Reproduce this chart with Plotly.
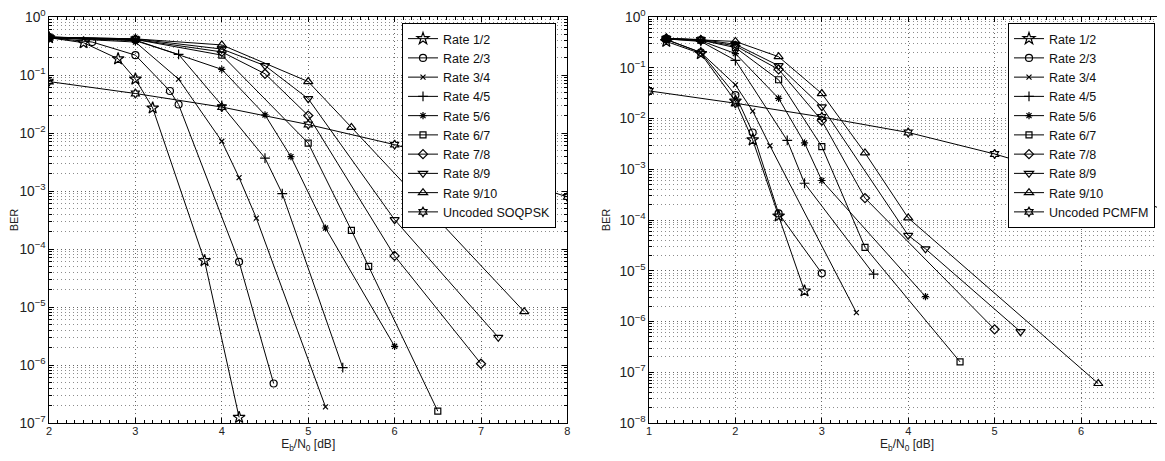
import plotly.graph_objects as go

# ---------------- Data: left panel (SOQPSK) ----------------
rate_names = ["Rate 1/2", "Rate 2/3", "Rate 3/4", "Rate 4/5", "Rate 5/6",
              "Rate 6/7", "Rate 7/8", "Rate 8/9", "Rate 9/10"]
rate_symbols = ["star-open", "circle-open", "x-thin-open", "cross-thin-open", "asterisk-open",
                "square-open", "diamond-open", "triangle-down-open", "triangle-up-open"]
rate_sizes = [9, 7, 5, 7, 6, 6, 7, 8, 8]

soq_r12_x = [2, 2.4, 2.8, 3.0, 3.2, 3.8, 4.2]
soq_r12_y = [0.44, 0.36, 0.19, 0.085, 0.027, 6.3e-5, 1.25e-7]
soq_r23_x = [2, 2.5, 3.0, 3.4, 3.5, 4.2, 4.6]
soq_r23_y = [0.44, 0.37, 0.22, 0.053, 0.031, 6e-5, 4.8e-7]
soq_r34_x = [2, 3.0, 3.5, 4.0, 4.2, 4.4, 5.2]
soq_r34_y = [0.44, 0.37, 0.085, 7.2e-3, 1.7e-3, 3.4e-4, 1.9e-7]
soq_r45_x = [2, 3.0, 3.5, 4.0, 4.5, 4.7, 5.4]
soq_r45_y = [0.44, 0.39, 0.226, 0.03, 3.7e-3, 9e-4, 9e-7]
soq_r56_x = [2, 3.0, 4.0, 4.5, 4.8, 5.2, 6.0]
soq_r56_y = [0.44, 0.40, 0.125, 0.0205, 3.9e-3, 2.3e-4, 2.1e-6]
soq_r67_x = [2, 3.0, 4.0, 5.0, 5.5, 5.7, 6.5]
soq_r67_y = [0.45, 0.41, 0.22, 6.7e-3, 2.1e-4, 5e-5, 1.6e-7]
soq_r78_x = [2, 3.0, 4.0, 4.5, 5.0, 6.0, 7.0]
soq_r78_y = [0.45, 0.41, 0.25, 0.105, 0.02, 7.6e-5, 1.05e-6]
soq_r89_x = [2, 3.0, 4.0, 4.5, 5.0, 6.0, 7.2]
soq_r89_y = [0.45, 0.42, 0.28, 0.145, 0.039, 3.2e-4, 3e-6]
soq_r910_x = [2, 3.0, 4.0, 5.0, 5.5, 7.5]
soq_r910_y = [0.45, 0.42, 0.33, 0.077, 0.0125, 8.3e-6]
soq_unc_x = [2, 3, 4, 5, 6, 7, 8]
soq_unc_y = [0.077, 0.048, 0.028, 0.014, 6.3e-3, 2.4e-3, 7.9e-4]

# ---------------- Data: right panel (PCMFM) ----------------
pcm_r12_x = [1.2, 1.6, 2.0, 2.2, 2.5, 2.8]
pcm_r12_y = [0.33, 0.19, 0.022, 3.8e-3, 1.2e-4, 4e-6]
pcm_r23_x = [1.2, 1.6, 2.0, 2.2, 2.5, 3.0]
pcm_r23_y = [0.36, 0.20, 0.029, 5.3e-3, 1.35e-4, 8.9e-6]
pcm_r34_x = [1.2, 1.6, 2.0, 2.2, 2.4, 3.4]
pcm_r34_y = [0.36, 0.20, 0.046, 0.014, 2.9e-3, 1.5e-6]
pcm_r45_x = [1.2, 1.6, 2.0, 2.6, 2.8, 3.6]
pcm_r45_y = [0.37, 0.33, 0.14, 3.7e-3, 5.3e-4, 8.6e-6]
pcm_r56_x = [1.2, 1.6, 2.0, 2.5, 2.8, 3.0, 4.2]
pcm_r56_y = [0.37, 0.34, 0.19, 0.025, 3.3e-3, 6e-4, 3.1e-6]
pcm_r67_x = [1.2, 1.6, 2.0, 2.5, 3.0, 3.5, 4.6]
pcm_r67_y = [0.37, 0.35, 0.25, 0.058, 2.8e-3, 2.9e-5, 1.6e-7]
pcm_r78_x = [1.2, 1.6, 2.0, 2.5, 3.0, 3.5, 5.0]
pcm_r78_y = [0.38, 0.35, 0.27, 0.093, 9.1e-3, 2.7e-4, 7e-7]
pcm_r89_x = [1.2, 1.6, 2.0, 2.5, 3.0, 4.0, 4.2, 5.3]
pcm_r89_y = [0.38, 0.36, 0.29, 0.11, 0.017, 5e-5, 2.7e-5, 6.3e-7]
pcm_r910_x = [1.2, 1.6, 2.0, 2.5, 3.0, 3.5, 4.0, 6.2]
pcm_r910_y = [0.38, 0.36, 0.33, 0.165, 0.031, 2.1e-3, 1.1e-4, 6e-8]
pcm_unc_x = [1, 2, 3, 4, 5, 6, 7]
pcm_unc_y = [0.035, 0.02, 0.0107, 5.3e-3, 2e-3, 6.3e-4, 1.5e-4]

left_series = [(soq_r12_x, soq_r12_y), (soq_r23_x, soq_r23_y), (soq_r34_x, soq_r34_y),
               (soq_r45_x, soq_r45_y), (soq_r56_x, soq_r56_y), (soq_r67_x, soq_r67_y),
               (soq_r78_x, soq_r78_y), (soq_r89_x, soq_r89_y), (soq_r910_x, soq_r910_y)]
right_series = [(pcm_r12_x, pcm_r12_y), (pcm_r23_x, pcm_r23_y), (pcm_r34_x, pcm_r34_y),
                (pcm_r45_x, pcm_r45_y), (pcm_r56_x, pcm_r56_y), (pcm_r67_x, pcm_r67_y),
                (pcm_r78_x, pcm_r78_y), (pcm_r89_x, pcm_r89_y), (pcm_r910_x, pcm_r910_y)]

FONT = "Liberation Sans, Arial, Helvetica, sans-serif"
fig = go.Figure()


def add(x, y, name, sym, size, xa, ya, leg):
    fig.add_trace(go.Scatter(
        x=x, y=y, name=name, mode="lines+markers", xaxis=xa, yaxis=ya, legend=leg,
        line=dict(color="black", width=1),
        marker=dict(symbol=sym, size=size, color="black", line=dict(color="black", width=1.2)),
    ))


for (x, y), n, s, sz in zip(left_series, rate_names, rate_symbols, rate_sizes):
    add(x, y, n, s, sz, "x", "y", "legend")
add(soq_unc_x, soq_unc_y, "Uncoded SOQPSK", "hexagram-open", 7, "x", "y", "legend")

for (x, y), n, s, sz in zip(right_series, rate_names, rate_symbols, rate_sizes):
    add(x, y, n, s, sz, "x2", "y2", "legend2")
add(pcm_unc_x, pcm_unc_y, "Uncoded PCMFM", "hexagram-open", 7, "x2", "y2", "legend2")

# the page body adds an 8px offset, so the figure is 8px smaller than the window
W, H = 1157, 453
L, R, T, B = 41, 0, 9, 38
pw = W - L - R
ph = H - T - B
px_per_unit = 86.4
left_end = (6 * px_per_unit) / pw
right_start = (641 - L) / pw
right_max = 1 + (W - 641) / px_per_unit

common_x = dict(
    showline=True, linecolor="black", linewidth=1.3, mirror="ticks",
    ticks="inside", ticklen=5, tickcolor="black", tickwidth=1,
    showgrid=True, gridcolor="#666", griddash="1px,3px", gridwidth=1,
    zeroline=False, dtick=1, automargin=False, ticklabelstandoff=-2,
    ticklabeloverflow="allow",
    tickfont=dict(family=FONT, size=11, color="#222"),
    minor=dict(ticks="inside", ticklen=3, dtick=0.1, tickcolor="black", showgrid=False),
    title=dict(text="E<sub>b</sub>/N<sub>0</sub> [dB]", font=dict(family=FONT, size=12, color="#222"), standoff=0),
)
common_y = dict(
    type="log", showline=True, linecolor="black", linewidth=1.3, mirror="ticks",
    ticks="inside", ticklen=5, tickcolor="black", tickwidth=1,
    showgrid=True, gridcolor="#666", griddash="1px,3px", gridwidth=1,
    zeroline=False, dtick=1, exponentformat="power", automargin=False,
    ticklabeloverflow="allow",
    labelalias={"1": "10<sup>0</sup>"},
    tickfont=dict(family=FONT, size=11, color="#222"),
    minor=dict(ticks="inside", ticklen=3, dtick="D1", tickcolor="black",
               showgrid=True, gridcolor="#8c8c8c", griddash="1px,3px", gridwidth=1),
    title=dict(text="BER", font=dict(family=FONT, size=11, color="#222"), standoff=6),
)

leg_common = dict(y=1 - (15 - T) / ph, xanchor="right", yanchor="top",
                  bordercolor="black", borderwidth=1, bgcolor="white",
                  font=dict(family=FONT, size=12.5, color="#111"), tracegroupgap=0)

fig.update_layout(
    width=W, height=H, template="none",
    paper_bgcolor="white", plot_bgcolor="white",
    margin=dict(l=L, r=R, t=T, b=B),
    font=dict(family=FONT, color="#222"),
    xaxis=dict(common_x, domain=[0, left_end], range=[2, 8]),
    yaxis=dict(common_y, range=[-7, 0], anchor="x"),
    xaxis2=dict(common_x, domain=[right_start, 1], range=[1, right_max], anchor="y2"),
    yaxis2=dict(common_y, range=[-8, 0], anchor="x2"),
    legend=dict(leg_common, x=(548 - L) / pw),
    legend2=dict(leg_common, x=(1147 - L) / pw),
    showlegend=True,
)

fig.write_html("out.html")
